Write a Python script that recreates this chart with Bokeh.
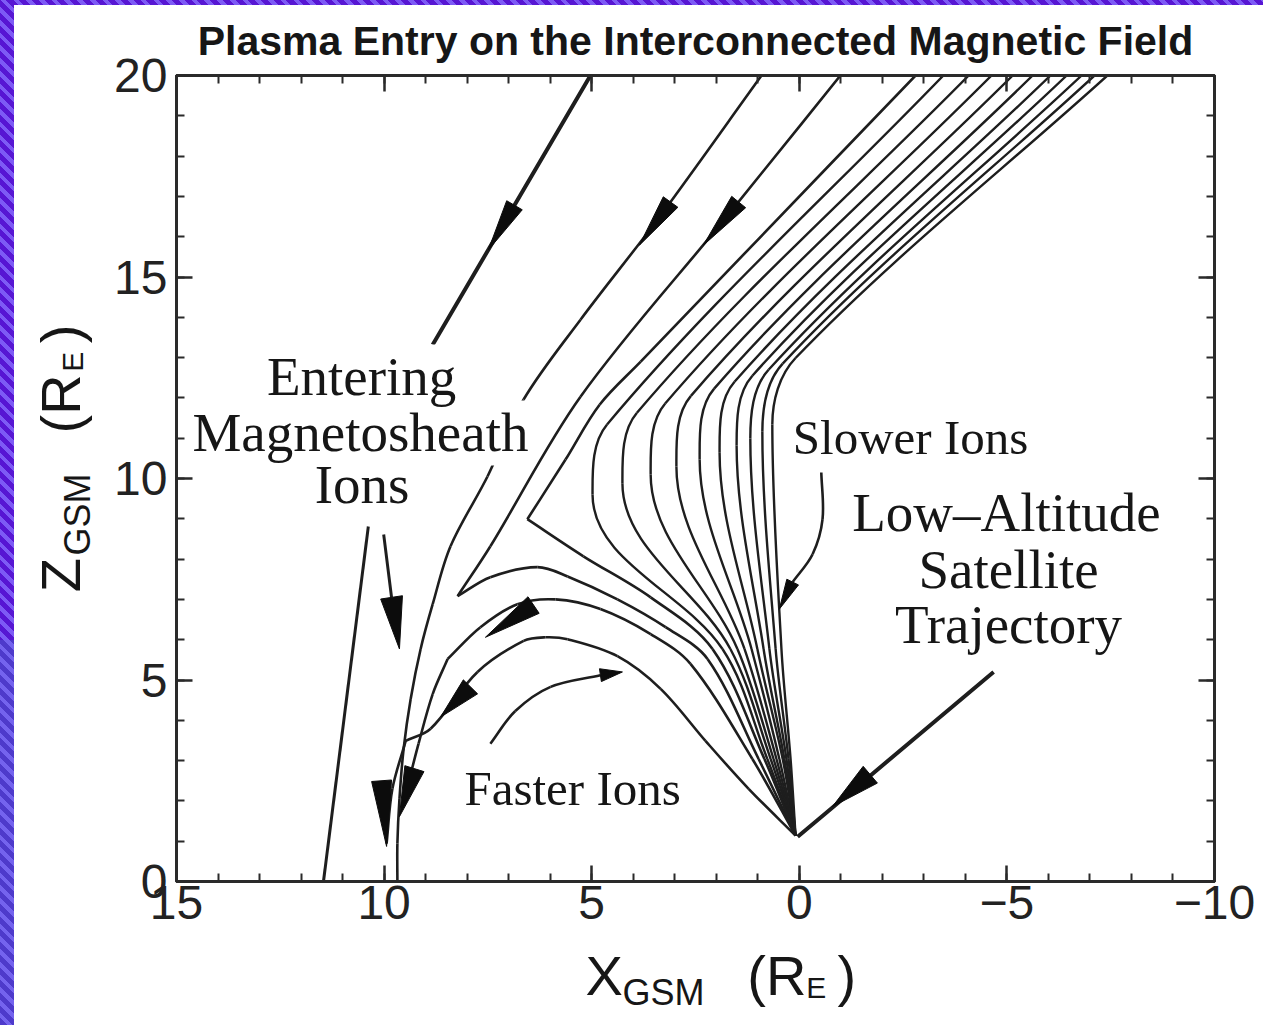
import math

from bokeh.embed import file_html
from bokeh.models import ColumnDataSource, Label, LinearAxis, Range1d, SingleIntervalTicker
from bokeh.plotting import figure
from bokeh.resources import INLINE

# ---------------------------------------------------------------- axes
x_start, x_end = 15, -10          # X_GSM runs from +15 (left) to -10 (right)
y_start, y_end = 0, 20            # Z_GSM
x_tick_text = {15: "15", 10: "10", 5: "5", 0: "0", -5: "\u22125", -10: "\u221210"}
y_tick_text = {0: "0", 5: "5", 10: "10", 15: "15", 20: "20"}

# ---------------------------------------------------------------- satellite foot point
sat_x = 0.09
sat_y = 1.14

# ---------------------------------------------------------------- slower ions (fan)
fan_top_x = [-3.47, -4.08, -4.63, -5.14, -5.62, -6.05, -6.44, -6.80, -7.11, -7.42]
fan_bend_x = [4.63, 3.91, 3.23, 2.61, 2.05, 1.56, 1.13, 0.74, 0.40, 0.09]
fan_bend_y = [11.34, 11.63, 11.86, 12.05, 12.23, 12.40, 12.55, 12.70, 12.85, 12.99]
fan_turn_x = [4.98, 4.26, 3.58, 2.96, 2.40, 1.92, 1.51, 1.18, 0.89, 0.65]
fan_turn_y = [9.60, 9.88, 10.10, 10.30, 10.47, 10.64, 10.82, 10.99, 11.16, 11.34]
fan_mid_y = 5.77
fan_mid_x = [1.85, 1.66, 1.49, 1.32, 1.15, 1.01, 0.86, 0.72, 0.57, 0.43]
fan_low_y = 3.04
fan_low_x = [0.77, 0.69, 0.62, 0.55, 0.48, 0.40, 0.36, 0.31, 0.26, 0.21]

# ---------------------------------------------------------------- other trajectories
arrow_a_x = [5.03, 8.83]
arrow_a_y = [20.0, 13.32]

entry1_x = [0.91, 3.39, 5.27, 6.64, 7.51, 8.40, 8.83, 9.12, 9.36, 9.53, 9.63, 9.68, 9.68]
entry1_y = [20.0, 16.46, 13.94, 11.96, 10.05, 8.32, 6.88, 5.77, 4.53, 3.29, 2.05, 0.94, 0.0]

entry2_x = [-0.99, 1.78, 5.27, 7.44, 8.23]
entry2_y = [20.0, 16.46, 12.03, 8.32, 7.08]

arch1_x = [8.23, 7.44, 6.31, 5.58, 4.38, 3.22, 2.21, 0.98, sat_x]
arch1_y = [7.08, 7.55, 7.80, 7.57, 7.00, 6.31, 5.52, 3.04, sat_y]

corner_upper_x = [-2.80, 3.82, 4.81, 5.63, 6.55]
corner_upper_y = [20.0, 12.90, 11.83, 10.47, 8.99]
corner_lower_x = [6.55, 5.20, 3.58, 2.09, 0.84, sat_x]
corner_lower_y = [8.99, 8.07, 7.05, 5.77, 3.04, sat_y]

arch2_x = [8.47, 7.68, 6.79, 5.87, 4.79, 3.58, 2.62, 1.13, sat_x]
arch2_y = [5.52, 6.31, 6.88, 7.00, 6.76, 6.14, 5.40, 3.04, sat_y]
arch2_tail_x = [8.47, 8.83, 9.17, 9.48]
arch2_tail_y = [5.52, 4.65, 3.42, 2.18]

arch3_x = [9.48, 8.88, 7.75, 6.64, 6.11, 5.58, 4.38, 3.34, 2.26, 1.22, sat_x]
arch3_y = [3.49, 3.79, 5.20, 5.97, 6.06, 6.01, 5.59, 4.78, 3.49, 2.30, sat_y]
arch3_tail_x = [9.48, 9.80, 9.94]
arch3_tail_y = [3.49, 2.30, 0.94]

# ---------------------------------------------------------------- pointers
ions_left_x = [10.38, 11.46]
ions_left_y = [8.81, 0.0]
ions_right_x = [10.01, 9.82]
ions_right_y = [8.61, 7.05]
faster_x = [7.44, 6.84, 5.99, 4.79]
faster_y = [3.42, 4.23, 4.83, 5.12]
slower_x = [-0.53, -0.56, -0.32, 0.16]
slower_y = [10.15, 8.99, 8.12, 7.43]
track_x = [-4.68, 0.04]
track_y = [5.20, 1.11]

# arrowheads: tail point, tip point, base width (px)
head_tail_x = [6.86, 3.10, 1.46, 6.40, 7.92, 9.27, 10.06, 9.82, 4.79, 0.16, -1.71]
head_tail_y = [16.78, 16.86, 16.86, 6.86, 4.83, 2.80, 2.50, 7.05, 5.12, 7.43, 2.65]
head_tip_x = [7.49, 3.85, 2.31, 7.56, 8.64, 9.63, 9.94, 9.63, 4.26, 0.48, -0.80]
head_tip_y = [15.67, 15.79, 15.79, 6.06, 4.08, 1.61, 0.87, 5.77, 5.20, 6.76, 1.86]
head_width = [18, 18, 18, 20, 20, 20, 20, 22, 13, 13, 22]

# ---------------------------------------------------------------- layout
W, H = 1263, 1025
LEFT, RIGHT, TOP, BOTTOM = 176, 49, 75, 142
FRAME_W = W - LEFT - RIGHT
FRAME_H = H - TOP - BOTTOM
PX_X = FRAME_W / abs(x_end - x_start)
PX_Y = FRAME_H / abs(y_end - y_start)
LIFT = 0.36   # label anchor sits this fraction of the font size below the baseline

INK = "#1e1e1e"
SANS = "Liberation Sans"
SERIF = "Liberation Serif"
NBSP = "\u00a0"

p = figure(
    width=W, height=H,
    x_range=Range1d(x_start, x_end), y_range=Range1d(y_start, y_end),
    output_backend="svg", toolbar_location=None,
    min_border_left=LEFT, min_border_right=RIGHT,
    min_border_top=TOP, min_border_bottom=BOTTOM,
)
p.grid.visible = False
p.background_fill_color = "white"
p.border_fill_alpha = 0
p.outline_line_color = "#2a2a2a"
p.outline_line_width = 3
p.styles = {
    "background": (
        "linear-gradient(#ffffff, #ffffff) 14px 5px / calc(100% - 14px) calc(100% - 5px) no-repeat, "
        "repeating-linear-gradient(45deg, #4e3acb 0px, #4e3acb 5px, #7463ee 5px, #7463ee 9px) "
        "0px 640px / 14px 385px no-repeat, "
        "repeating-linear-gradient(45deg, #5716d3 0px, #5716d3 5px, #7d5af5 5px, #7d5af5 9px)"
    )
}


def style_axis(ax, tick_text=None):
    ax.ticker = SingleIntervalTicker(interval=5, num_minor_ticks=5)
    ax.axis_line_color = "#2a2a2a"
    ax.axis_line_width = 3
    ax.major_tick_in = 16
    ax.major_tick_out = 0
    ax.minor_tick_in = 8
    ax.minor_tick_out = 0
    ax.major_tick_line_color = "#2a2a2a"
    ax.major_tick_line_width = 2.5
    ax.minor_tick_line_color = "#2a2a2a"
    ax.minor_tick_line_width = 2
    if tick_text is None:
        ax.major_label_text_font_size = "1px"
        ax.major_label_text_alpha = 0
        ax.major_label_standoff = 0
    else:
        ax.major_label_overrides = tick_text
        ax.major_label_text_font = SANS
        ax.major_label_text_font_size = "48px"
        ax.major_label_text_color = "#222222"


style_axis(p.xaxis[0], x_tick_text)
p.xaxis[0].major_label_standoff = 4
style_axis(p.yaxis[0], y_tick_text)
p.yaxis[0].major_label_standoff = 9
top_axis = LinearAxis()
right_axis = LinearAxis()
style_axis(top_axis)
style_axis(right_axis)
p.add_layout(top_axis, "above")
p.add_layout(right_axis, "right")


# ---------------------------------------------------------------- drawing helpers
def smooth_path(xs, ys, vertical=()):
    """Cubic Bezier pieces through the points; tangents follow the
    neighbouring points (vertical where asked), scaled by the piece length."""
    n = len(xs)
    dirs = []
    for i in range(n):
        m, q = max(i - 1, 0), min(i + 1, n - 1)
        dx, dy = xs[q] - xs[m], ys[q] - ys[m]
        if i in vertical:
            dx = 0.0
        norm = math.hypot(dx, dy) or 1.0
        dirs.append((dx / norm, dy / norm))
    seg = {k: [] for k in ("x0", "y0", "x1", "y1", "cx0", "cy0", "cx1", "cy1")}
    for i in range(n - 1):
        L = math.hypot(xs[i + 1] - xs[i], ys[i + 1] - ys[i]) / 3
        seg["x0"].append(xs[i]); seg["y0"].append(ys[i])
        seg["x1"].append(xs[i + 1]); seg["y1"].append(ys[i + 1])
        seg["cx0"].append(xs[i] + dirs[i][0] * L)
        seg["cy0"].append(ys[i] + dirs[i][1] * L)
        seg["cx1"].append(xs[i + 1] - dirs[i + 1][0] * L)
        seg["cy1"].append(ys[i + 1] - dirs[i + 1][1] * L)
    return seg


def draw_curves(paths, width):
    data = {k: [] for k in ("x0", "y0", "x1", "y1", "cx0", "cy0", "cx1", "cy1")}
    for path in paths:
        seg = smooth_path(*path)
        for k in data:
            data[k].extend(seg[k])
    p.bezier(x0="x0", y0="y0", x1="x1", y1="y1", cx0="cx0", cy0="cy0",
             cx1="cx1", cy1="cy1", source=ColumnDataSource(data),
             line_color=INK, line_width=width)


# slower-ion fan curves: top -> bend -> turning point -> down to the satellite
fan_paths = []
for i in range(len(fan_top_x)):
    xs = [fan_top_x[i], fan_bend_x[i], fan_turn_x[i], fan_mid_x[i], fan_low_x[i], sat_x]
    ys = [y_end, fan_bend_y[i], fan_turn_y[i], fan_mid_y, fan_low_y, sat_y]
    fan_paths.append((xs, ys, (2,)))
draw_curves(fan_paths, 2.4)

draw_curves([
    (entry1_x, entry1_y), (entry2_x, entry2_y), (arch1_x, arch1_y),
    (corner_upper_x, corner_upper_y), (corner_lower_x, corner_lower_y),
    (arch2_x, arch2_y), (arch2_tail_x, arch2_tail_y),
    (arch3_x, arch3_y), (arch3_tail_x, arch3_tail_y),
    (faster_x, faster_y), (slower_x, slower_y),
], 2.6)
draw_curves([(ions_left_x, ions_left_y), (ions_right_x, ions_right_y)], 3)
draw_curves([(arrow_a_x, arrow_a_y), (track_x, track_y)], 4)

# arrowheads as filled triangles
head_xs, head_ys = [], []
for tx, ty, hx, hy, w in zip(head_tail_x, head_tail_y, head_tip_x, head_tip_y, head_width):
    sx, sy = -(hx - tx) * PX_X, (hy - ty) * PX_Y
    length = math.hypot(sx, sy)
    nx, ny = -sy / length * w / 2, sx / length * w / 2
    ox, oy = -nx / PX_X, ny / PX_Y
    head_xs.append([hx, tx + ox, tx - ox])
    head_ys.append([hy, ty + oy, ty - oy])
p.patches(head_xs, head_ys, fill_color="#0c0c0c", line_color="#0c0c0c", line_width=1)


# ---------------------------------------------------------------- texts
def text(x, y, s, size, font=SERIF, align="center", angle=0.0, style="normal",
         bg=None, side="center"):
    """(x, y) is the start (or centre) of the text on its baseline."""
    lift = LIFT * size
    if angle:
        x += lift / PX_X      # text "up" points to the left for upward reading
    else:
        y += lift / PX_Y
    lab = Label(x=x, y=y, text=s, text_font=font, text_font_size=f"{size}px",
                text_font_style=style, text_align=align,
                text_baseline="alphabetic", text_color="#161616", angle=angle)
    if bg is not None:
        lab.background_fill_color = bg
        lab.padding = 2
    p.add_layout(lab, side)


up = math.pi / 2

# title, plus the rotated subscript E of the vertical axis title (narrow)
text(2.50, 20.49, "Plasma Entry on the Interconnected Magnetic Field", 41,
     font=SANS, style="bold", side="above")
text(17.24, 12.65, "E", 30, font=SANS, align="left", angle=up, side="above")

# annotations inside the frame
text(10.57, 10.64, "Magnetosheath", 55, bg="white")
text(10.54, 12.03, "Entering", 55, bg="white")
text(10.53, 9.36, "Ions", 55, bg="white")
text(-2.68, 10.59, "Slower Ions", 49)
text(-4.99, 8.66, "Low\u2013Altitude", 55)
text(-5.04, 7.25, "Satellite", 55)
text(-5.04, 5.89, "Trajectory", 55)
text(5.46, 1.88, "Faster Ions", 49)

# horizontal axis title  X_GSM (R_E)
gap = NBSP * 8
text(5.15, -2.82, "X" + gap + "(R" + NBSP * 2 + ")", 56, font=SANS, align="left",
     side="below")
text(4.26, -3.07, "GSM", 36, font=SANS, align="left", side="below")
text(-0.17, -2.90, "E", 30, font=SANS, align="left", side="right")

# vertical axis title  Z_GSM (R_E), reading upwards
text(17.31, 7.18, "Z" + gap + "(R" + NBSP * 2 + ")", 56, font=SANS, align="left",
     angle=up, side="left")
text(17.07, 8.09, "GSM", 36, font=SANS, align="left", angle=up, side="left")

open("out.html", "w").write(file_html(p, INLINE))
